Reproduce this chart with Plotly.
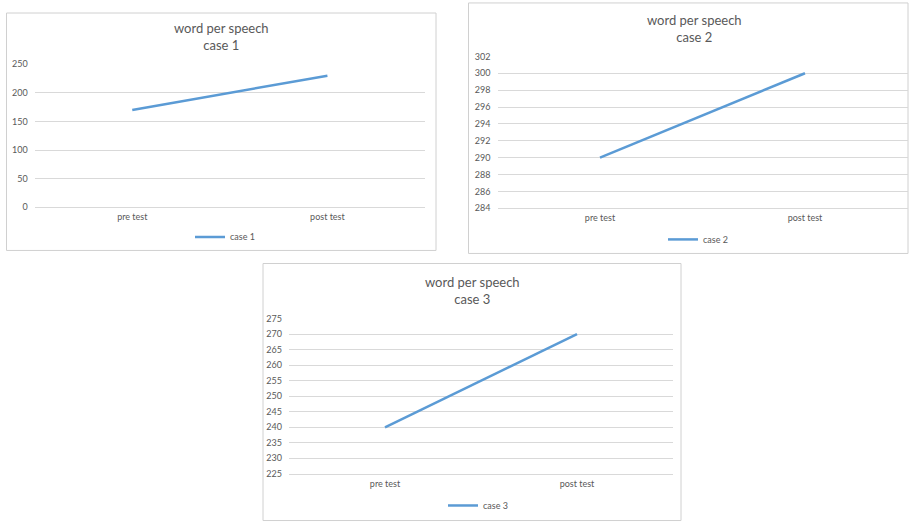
import plotly.graph_objects as go

categories = ["pre test", "post test"]
case1 = [170, 230]
case2 = [290, 300]
case3 = [240, 270]
series_names = ["case 1", "case 2", "case 3"]
chart_title = "word per speech"

W, H = 909, 522
YC, YK = 261.0, 1 / 0.975   # vertical calibration of the rendered page
def px(x): return x / W
def py(y): return 1 - (YC + (y - YC) * YK) / H

GRID = "#d9d9d9"
TXT = "#595959"
LINE = "#5b9bd5"
FONT = "Lato"

fig = go.Figure()

panels = [
    (case1, series_names[0], (34.7, 425, 64.5, 207), (0, 250), 50, (221, 37), (225, 236.5), (6.5, 13.5, 436, 250)),
    (case2, series_names[1], (497.5, 907.5, 56.7, 208), (284, 302), 2, (694, 28.5), (698, 239), (468.5, 3.5, 908, 253)),
    (case3, series_names[2], (289, 673, 318, 472.5), (225, 275), 5, (472, 289.5), (478, 504), (263, 263, 681, 519)),
]

for i, (vals, name, box, yr, dt, tc, lc, border) in enumerate(panels, start=1):
    sfx = "" if i == 1 else str(i)
    lg = "legend" if i == 1 else f"legend{i}"
    fig.add_trace(go.Scatter(
        x=categories, y=vals, name=name, mode="lines",
        line=dict(color=LINE, width=2.5),
        xaxis=f"x{sfx}", yaxis=f"y{sfx}", legend=lg, showlegend=True,
    ))
    x0, x1, yt, yb = box
    fig.layout[f"xaxis{sfx}"] = dict(
        domain=[px(x0), px(x1)], anchor=f"y{sfx}", type="category",
        range=[-0.5, 1.5], showgrid=False, showline=True, linecolor=GRID, linewidth=1,
        ticks="", ticklabelstandoff=1,
        tickfont=dict(size=9, color=TXT, family=FONT), fixedrange=True,
    )
    fig.layout[f"yaxis{sfx}"] = dict(
        domain=[py(yb), py(yt)], anchor=f"x{sfx}", range=list(yr), dtick=dt, tick0=yr[0],
        showgrid=True, gridcolor=GRID, gridwidth=1, zeroline=False, showline=False,
        ticks="", ticklabelstandoff=6,
        tickfont=dict(size=9, color=TXT, family=FONT), fixedrange=True,
    )
    fig.layout[lg] = dict(
        x=px(lc[0]), y=py(lc[1]), xanchor="center", yanchor="middle",
        orientation="h", font=dict(size=9, color=TXT, family=FONT),
        bgcolor="rgba(0,0,0,0)", itemwidth=30,
    )
    fig.add_annotation(
        x=px(tc[0]), y=py(tc[1]), xref="paper", yref="paper",
        text=f"{chart_title}<br>{name}", showarrow=False,
        xanchor="center", yanchor="middle",
        font=dict(size=13, color=TXT, family=FONT),
    )
    bx0, by0, bx1, by1 = border
    fig.add_shape(type="rect", xref="paper", yref="paper",
                  x0=px(bx0), x1=px(bx1), y0=py(by1), y1=py(by0),
                  line=dict(color="#d0d0d0", width=1), fillcolor="rgba(0,0,0,0)", layer="below")

fig.update_layout(
    width=W, height=H, margin=dict(l=0, r=0, t=0, b=0),
    paper_bgcolor="white", plot_bgcolor="white",
    font=dict(family=FONT, color=TXT),
)

fig.write_html("out.html")
